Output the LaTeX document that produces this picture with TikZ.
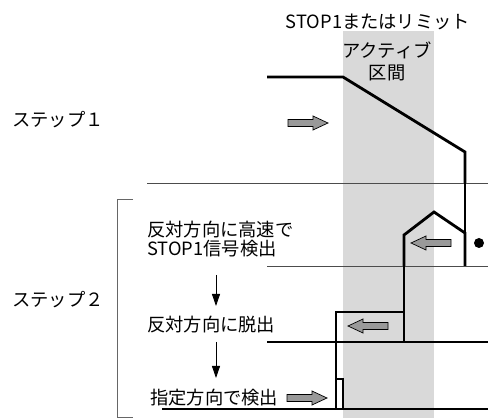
\documentclass[tikz,border=0pt]{standalone}
\usepackage{fontspec}
\setmainfont{Noto Sans CJK JP}
\usetikzlibrary{arrows.meta}

\begin{document}
\begin{tikzpicture}[
  x=0.025cm, y=-0.025cm,
  lbl/.style={font=\fontsize{13}{13}\selectfont, inner sep=0pt},
  lvl/.style={draw=black!70, line width=0.7pt},
  sig/.style={line width=2pt, line join=miter},
  wire/.style={line width=0.8pt},
  garrow/.pic={
    \draw[fill=black!40, line width=0.5pt, line join=miter]
      (-20,-3.5) -- (5,-3.5) -- (5,-7) -- (20,0) -- (5,7) -- (5,3.5) -- (-20,3.5) -- cycle;
  },
  flow/.style={line width=0.6pt, -{Triangle[length=0.3cm, width=0.2cm]}}
]
  \useasboundingbox (0,0) rectangle (488,418);

  % Active zone band
  \fill[black!15] (343,31) rectangle (434,418);

  % Titles
  \node[lbl] (hdr) at (378,22) {STOP1またはリミット};
  \node[lbl, align=center, font=\fontsize{13}{15.6}\selectfont] (act) at (387,61) {アクティブ\\区間};

  % Steps
  \node[lbl, anchor=west] (st1) at (12,120) {ステップ１};
  \node[lbl, anchor=west] (st2) at (12,300) {ステップ２};
  \draw[draw=black!60, line width=0.6pt] (133,199) -- (117,199) -- (117,417) -- (133,417);

  % Step 2 phases
  \node[lbl, anchor=west, align=left] (d1) at (147,239) {反対方向に高速で\\STOP1信号検出};
  \node[lbl, anchor=west] (d2) at (147,325) {反対方向に脱出};
  \node[lbl, anchor=west] (d3) at (150,398) {指定方向で検出};
  \coordinate (f1a) at (216,275);
  \coordinate (f1b) at (216,306);
  \coordinate (f2a) at (216,342);
  \coordinate (f2b) at (216,378);
  \draw[flow] (f1a) -- (f1b);
  \draw[flow] (f2a) -- (f2b);

  % Levels
  \draw[lvl] (147,183) -- (488,183);
  \draw[lvl] (267,266) -- (488,266);
  \draw[wire] (267,342) -- (488,342);
  \draw[wire] (162,409) -- (488,409);

  % Speed profiles
  \draw[sig] (267,77) -- (343,77) -- (465,152) -- (465,183);
  \draw[wire] (465,183) -- (465,233);
  \draw[sig] (465,266) -- (465,233) -- (434,212) -- (404,235) -- (404,266);
  \draw[wire] (404,266) -- (404,342);
  \draw[sig] (404,342) -- (404,312) -- (336,312) -- (336,342);
  \draw[wire] (336,342) -- (336,409);
  \draw[sig] (336,409) -- (336,379) -- (343,379) -- (343,409);

  % Direction arrows
  \pic (g1) at (308,123) {garrow};
  \pic[xscale=-1] (g2) at (431,243) {garrow};
  \pic[xscale=-1] (g3) at (368,326) {garrow};
  \pic (g4) at (307,398) {garrow};
  \fill (479,243) circle (5) coordinate (dot);
\end{tikzpicture}
\end{document}
